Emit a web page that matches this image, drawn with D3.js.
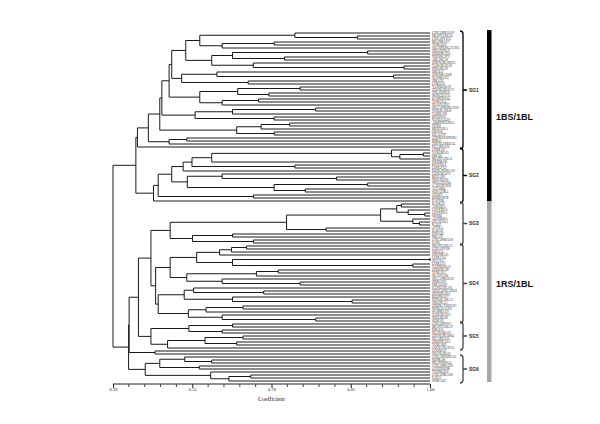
<!DOCTYPE html>
<html><head><meta charset="utf-8">
<script src="https://cdn.jsdelivr.net/npm/d3@7"></script>
<style>body{margin:0;background:#fff}svg{display:block}</style>
</head><body>
<svg id="c" width="600" height="424"></svg>
<script>
const _ = null;
// leaf names (top to bottom)
const leafNames = ["CHUANMAI107","MIANYANG26","CHUANYU12","MIANMAI37","YUMAI18","SHANNONG215953","JINGHONG9","ZHOUMAI16","XINONG979","AIKANG58","ZHENGMAI9023","YANGMAI158","NINGMAI9","EMAI12","ZHENMAI168","WANMAI33","JIMAI22","LUMAI21","YANNONG19","ZHONGMAI175","JINGDONG8","NONGDA211","BAINONG64","YUMAI34","XIAOYAN22","SHAANNONG7859","FENGKANG8","TAISHAN1","BEIJING8","NANDA2419","ABBONDANZA","FUNO","MENTANA","ORFED","QUALITY","CHINESESPRING","BIMA1","ZHENGZHOU24","HUAIMAI20",
"LINMAI2","YANGMAI5","EMAI6","MIANYANG11","WENMAI6","KEFENG3","LONGFU2","DONGNONG101","LONGMAI19","KEHAN9","XINCHUN2","NINGCHUN4","GANCHUN20","ALTAR84","SONALIKA","VEERY","BOBWHITE","PASTOR",
"KAVKAZ","AURORA","LOVRIN10","LOVRIN13","SERI82","ALONDRA","GRANADA","KAUZ","ATTILA","BABAX","PBW343","MILAN","CHUANMAI18","FAN6",
"MIANYANG15","CHUANYU6","EMAI14","ZHENMAI5","LUMAI14","JINAN13","LUMAI15","YANNONG15","ZHOUMAI9","YUMAI21","XIAOYAN6","SHAANMAI150","JINMAI30","JIMAI5418","HANDAN5316","SHIJIAZHUANG8","HENONG825","BEIJING837","FENGKANG13","JINGHUA3","ZHONGYOU9507","NONGDA3291","WANMAI19","YANGMAI10","NINGMAI8","SUMAI3",
"CHUAN89107","MIANYANG19","EMAI16","XIANGMAI11","ZHENGMAI004","HUAIMAI16","ZHOUMAI13","YUMAI49","LUOYANG8716",
"GUOMAI1","SHANGMAI1",
"CHUANNONG16","NEIMAI8","MIANNONG4","CHUANMAI30","GUIZHOU98","YUNMAI39","CHUANMAI28","FAN13","JINMAI47"];

// subtrees: [similarity, child, child...], leaf = _
const sg1 = [0.458,
    [0.480,
      [0.484,
        [0.498,
          [0.503,
            [0.53,
              [0.557, [0.74, _, [0.86, _, _]], [0.60, [0.70, _, _], _]],
              [0.58, [0.62, [0.88, _, _], [0.72, _, _]], [0.66, _, [0.95, _, _]]]],
            [0.522, [0.59, _, [0.93, _, _]], [0.65, _, _]]],
          [0.557, [0.63, [0.75, _, _], [0.69, _, _]], [0.60, [0.67, _, _], _]]],
        [0.548, [0.62, [0.78, _, _], _], [0.70, _, _]]],
      [0.628, [0.675, [0.73, _, _], _], [0.70, _, _]]],
    [0.498, [0.532, _, _], _]];
const sg2 = [0.468,
  [0.477,
    [0.503,
      [0.525, [0.542, [0.58, [0.926, _, [0.942, [0.987, _, _], _]], _], [0.74, _, _]], _],
      [0.533, [0.60, _, [0.82, _, _]], [0.70, [0.88, _, _], [0.76, _, _]]]],
    [0.66, _, _]],
  _];
const sg3 = [0.50,
  [0.724, [0.905, [0.936, [0.945, _, _], [0.958, _, [0.99, _, _]]], [0.967, _, [0.98, _, _]]], [0.80, _, _]],
  [0.543, [0.62, _, _], [0.66, _, _]]];
const sg4 = [0.472,
  [0.50,
    [0.551, [0.595, [0.618, [0.647, _, _], _], _], [0.62, [1.0, _, _], [0.967, _, _]]],
    [0.532, [0.666, [0.708, _, _], _], [0.60, _, [0.75, _, _]]]],
  [0.477,
    [0.527, [0.545, _, [0.68, _, _]], [0.62, _, [0.85, _, _]]],
    [0.535, [0.569, [0.64, _, _], _], [0.60, _, [0.78, _, _]]]]];
const sg5 = [0.463, [0.536, [0.62, _, _], [0.60, _, _]], [0.495, [0.567, [0.64, _, _], [0.628, _, _]], _]];
const pair = [0.471, _, _];
const sg6 = [0.452, [0.48, [0.528, _, [0.58, _, _]], [0.556, _, _]], [0.578, _, [0.613, [0.655, _, _], _]]];
const tree = [0.39,
  [0.434, [0.437, sg1, _], sg2],
  [0.420, [0.421, [0.439, [0.463, sg3, sg4], sg5], pair], sg6]];

const majorTicks = [0.39, 0.5425, 0.695, 0.8475, 1.00];
const tickLabels = ["0.39", "0.55", "0.70", "0.85", "1.00"];
const groups = [
  {name:"SG1", from:0, to:38, color:"#000"},
  {name:"SG2", from:39, to:56, color:"#000"},
  {name:"SG3", from:57, to:70, color:"#444"},
  {name:"SG4", from:71, to:96, color:"#444"},
  {name:"SG5", from:97, to:105, color:"#444"},
  {name:"SG6", from:108, to:116, color:"#444"}];
const clusters = [
  {name:"1BS/1BL", from:0, to:56, color:"#000", labelAt:28},
  {name:"1RS/1BL", from:57, to:116, color:"#a8a8a8", labelAt:83.5}];

const svg = d3.select("#c");
const x = d3.scaleLinear().domain([0.39, 1.00]).range([113, 430]);
const y = d3.scaleLinear().domain([0, leafNames.length - 1]).range([33, 381]);

const root = d3.hierarchy(tree, d => Array.isArray(d) ? d.slice(1) : null);
const leaves = root.leaves();
leaves.forEach((l, i) => { l.idx = i; l.name = leafNames[i]; });
root.eachAfter(n => {
  n.h = Array.isArray(n.data) ? n.data[0] : 1.0;
  if (n.children) {
    n.py = (n.children[0].py + n.children[n.children.length - 1].py) / 2;
  } else {
    n.py = y(n.idx);
  }
});

const g = svg.append("g").attr("fill", "none").attr("stroke", "#1a1a1a").attr("stroke-width", 1);
root.each(n => {
  if (!n.children) return;
  const xn = x(n.h);
  const c = n.children;
  g.append("line").attr("x1", xn).attr("x2", xn)
    .attr("y1", c[0].py).attr("y2", c[c.length - 1].py);
  c.forEach(ch => {
    g.append("line").attr("x1", xn).attr("x2", x(ch.h))
      .attr("y1", ch.py).attr("y2", ch.py);
  });
});

svg.append("g").selectAll("text").data(leaves).join("text")
  .attr("x", 432).attr("y", d => d.py).attr("dy", "0.35em")
  .attr("font-family", "Liberation Serif, serif").attr("font-size", 3.2)
  .attr("fill", "#333").text(d => d.name);

// axis
const minor = [];
for (let i = 0; i < majorTicks.length - 1; i++) {
  for (let k = 1; k < 5; k++) minor.push(majorTicks[i] + (majorTicks[i + 1] - majorTicks[i]) * k / 5);
}
const axis = d3.axisBottom(x).tickValues(majorTicks).tickSize(4)
  .tickFormat((d, i) => tickLabels[i]);
const ax = svg.append("g").attr("transform", "translate(0,384)").call(axis);
ax.select(".domain").attr("stroke", "#222").attr("d", `M${x(0.39)},0H${x(1)}`);
ax.selectAll(".tick line").attr("stroke", "#222");
ax.selectAll(".tick text").attr("font-family", "Liberation Serif, serif").attr("font-size", 4.5).attr("fill", "#222").attr("dy", "0.3em").attr("y", 6);
ax.selectAll(".minor").data(minor).join("line").attr("class", "minor")
  .attr("x1", d => x(d)).attr("x2", d => x(d)).attr("y1", 0).attr("y2", 3).attr("stroke", "#444");
svg.append("text").attr("x", x(0.695)).attr("y", 401).attr("text-anchor", "middle")
  .attr("font-family", "Liberation Serif, serif").attr("font-size", 6).attr("fill", "#222").text("Coefficient");

// group brackets
const bx = 463;
groups.forEach(gr => {
  const y0 = y(gr.from) - 2, y1 = y(gr.to) + 2, m = (y0 + y1) / 2;
  svg.append("path").attr("fill", "none").attr("stroke", gr.color).attr("stroke-width", 1.3)
    .attr("d", `M${bx-3},${y0} Q${bx},${y0} ${bx},${y0+3} L${bx},${y1-3} Q${bx},${y1} ${bx-3},${y1} M${bx},${m} H${bx+4}`);
  svg.append("text").attr("x", bx + 6).attr("y", m).attr("dy", "0.35em")
    .attr("font-family", "Liberation Sans, Arial, sans-serif").attr("font-size", 4.8).attr("font-weight", "bold")
    .attr("fill", "#222").text(gr.name);
});

// cluster bars
clusters.forEach(c => {
  svg.append("rect").attr("x", 487).attr("width", 4.5)
    .attr("y", y(c.from) - 3).attr("height", y(c.to) - y(c.from) + 4).attr("fill", c.color);
  svg.append("text").attr("x", 496).attr("y", y(c.labelAt)).attr("dy", "0.35em")
    .attr("font-family", "Liberation Sans, Arial, sans-serif").attr("font-size", 9).attr("font-weight", "bold")
    .attr("fill", "#111").text(c.name);
});
</script>
</body></html>
